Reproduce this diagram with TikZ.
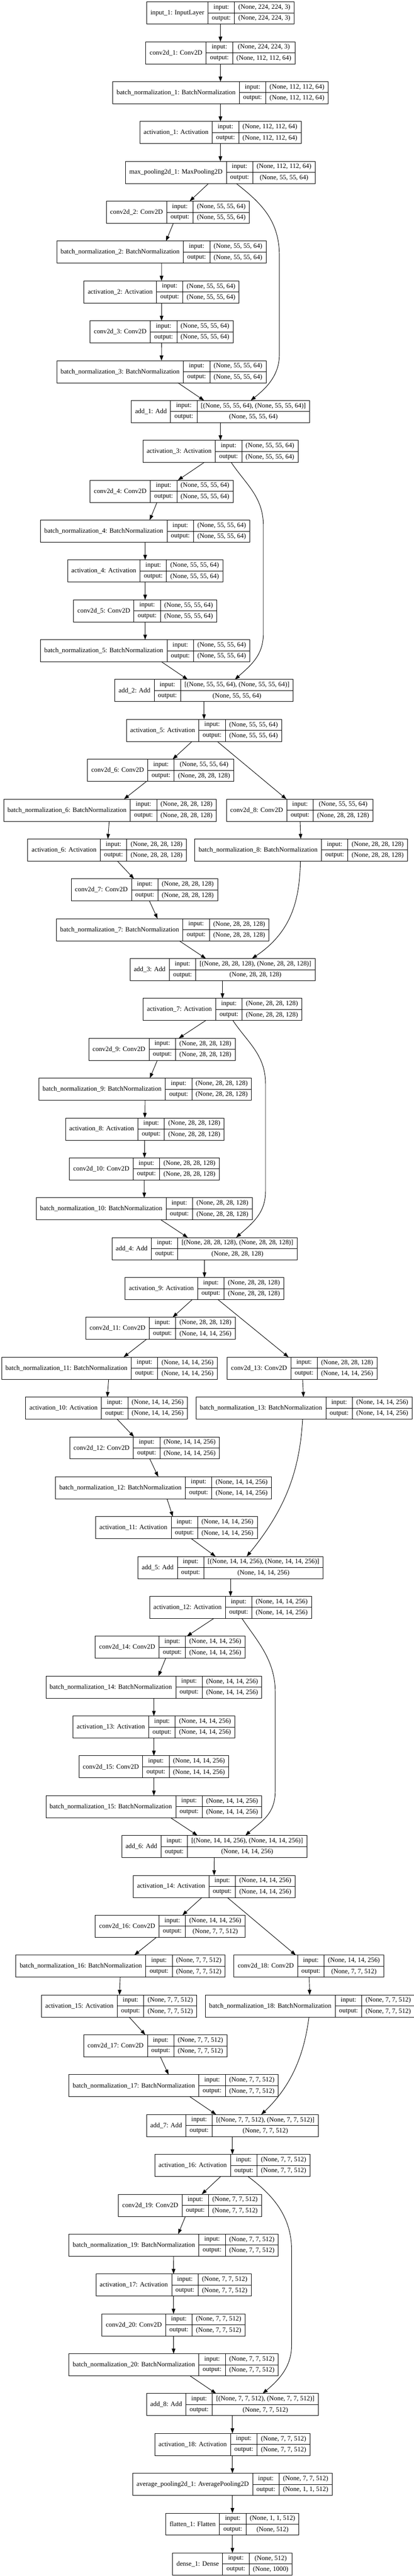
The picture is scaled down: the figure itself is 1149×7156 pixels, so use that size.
\documentclass[tikz,border=0pt]{standalone}
\usepackage{fontspec}
\setmainfont{Liberation Serif}
\usetikzlibrary{arrows.meta}
\usetikzlibrary{calc}

\newcommand\lfont{\fontsize{9.2}{11}\selectfont}
\newlength\lyA
\newlength\lyB
\newlength\lyC
\newlength\lyD
\newlength\lyW
% width of a cell text, measured with the real font
\newcommand\lwidth[2]{\settowidth#1{\pgfinterruptpicture\lfont #2\endpgfinterruptpicture}}

\tikzset{
  cell/.style={draw, line width=0.65pt, inner sep=0pt, outer sep=0pt, font=\lfont, minimum height=15.375pt},
  layer/.style={draw, line width=0.65pt, inner sep=0pt, outer sep=0pt, minimum height=30.75pt},
  edge/.style={-{Triangle[length=7pt,width=5pt]}, line width=0.65pt}
}

% one keras layer: name, x, row, label, input shape, output shape
\newcommand\klayer[6]{%
  \lwidth\lyA{#4}\addtolength\lyA{10.67pt}%
  \lwidth\lyB{output:}\addtolength\lyB{10.67pt}%
  \lwidth\lyC{#5}\lwidth\lyD{#6}%
  \ifdim\lyD>\lyC \setlength\lyC{\lyD}\fi
  \addtolength\lyC{10.67pt}%
  \setlength\lyW{\lyA}\addtolength\lyW{\lyB}\addtolength\lyW{\lyC}%
  \node[layer, minimum width=\lyW] (#1) at (#2,{36+(#3-1)*110.73}) {};
  \node[cell, minimum height=30.75pt, minimum width=\lyA, anchor=west] (#1-n) at (#1.west) {#4};
  \node[cell, minimum width=\lyB, anchor=north west] (#1-i) at (#1-n.north east) {input:};
  \node[cell, minimum width=\lyB, anchor=north west] (#1-o) at (#1-i.south west) {output:};
  \node[cell, minimum width=\lyC, anchor=north west] (#1-si) at (#1-i.north east) {#5};
  \node[cell, minimum width=\lyC, anchor=north west] (#1-so) at (#1-si.south west) {#6};
}

\begin{document}
\begin{tikzpicture}[x=0.5pt, y=-0.5pt]
  \useasboundingbox (0,0) rectangle (1149,7156);

  % stem
  \klayer{in1}{611.7}{1}{input\_1: InputLayer}{(None, 224, 224, 3)}{(None, 224, 224, 3)}
  \klayer{c1}{612}{2}{conv2d\_1: Conv2D}{(None, 224, 224, 3)}{(None, 112, 112, 64)}
  \klayer{bn1}{612}{3}{batch\_normalization\_1: BatchNormalization}{(None, 112, 112, 64)}{(None, 112, 112, 64)}
  \klayer{a1}{612}{4}{activation\_1: Activation}{(None, 112, 112, 64)}{(None, 112, 112, 64)}
  \klayer{mp}{611.7}{5}{max\_pooling2d\_1: MaxPooling2D}{(None, 112, 112, 64)}{(None, 55, 55, 64)}

  % 64 filters
  \klayer{c2}{493.8}{6}{conv2d\_2: Conv2D}{(None, 55, 55, 64)}{(None, 55, 55, 64)}
  \klayer{bn2}{448.2}{7}{batch\_normalization\_2: BatchNormalization}{(None, 55, 55, 64)}{(None, 55, 55, 64)}
  \klayer{a2}{448.5}{8}{activation\_2: Activation}{(None, 55, 55, 64)}{(None, 55, 55, 64)}
  \klayer{c3}{448.5}{9}{conv2d\_3: Conv2D}{(None, 55, 55, 64)}{(None, 55, 55, 64)}
  \klayer{bn3}{448.2}{10}{batch\_normalization\_3: BatchNormalization}{(None, 55, 55, 64)}{(None, 55, 55, 64)}
  \klayer{add1}{612}{11}{add\_1: Add}{[(None, 55, 55, 64), (None, 55, 55, 64)]}{(None, 55, 55, 64)}
  \klayer{a3}{612}{12}{activation\_3: Activation}{(None, 55, 55, 64)}{(None, 55, 55, 64)}
  \klayer{c4}{448.5}{13}{conv2d\_4: Conv2D}{(None, 55, 55, 64)}{(None, 55, 55, 64)}
  \klayer{bn4}{402.9}{14}{batch\_normalization\_4: BatchNormalization}{(None, 55, 55, 64)}{(None, 55, 55, 64)}
  \klayer{a4}{402.9}{15}{activation\_4: Activation}{(None, 55, 55, 64)}{(None, 55, 55, 64)}
  \klayer{c5}{402.9}{16}{conv2d\_5: Conv2D}{(None, 55, 55, 64)}{(None, 55, 55, 64)}
  \klayer{bn5}{402.9}{17}{batch\_normalization\_5: BatchNormalization}{(None, 55, 55, 64)}{(None, 55, 55, 64)}
  \klayer{add2}{566.4}{18}{add\_2: Add}{[(None, 55, 55, 64), (None, 55, 55, 64)]}{(None, 55, 55, 64)}
  \klayer{a5}{566.4}{19}{activation\_5: Activation}{(None, 55, 55, 64)}{(None, 55, 55, 64)}

  % 128 filters
  \klayer{c6}{445.9}{20}{conv2d\_6: Conv2D}{(None, 55, 55, 64)}{(None, 28, 28, 128)}
  \klayer{bn6}{305.3}{21}{batch\_normalization\_6: BatchNormalization}{(None, 28, 28, 128)}{(None, 28, 28, 128)}
  \klayer{c8}{831.9}{21}{conv2d\_8: Conv2D}{(None, 55, 55, 64)}{(None, 28, 28, 128)}
  \klayer{a6}{297.2}{22}{activation\_6: Activation}{(None, 28, 28, 128)}{(None, 28, 28, 128)}
  \klayer{bn8}{835.9}{22}{batch\_normalization\_8: BatchNormalization}{(None, 28, 28, 128)}{(None, 28, 28, 128)}
  \klayer{c7}{400.7}{23}{conv2d\_7: Conv2D}{(None, 28, 28, 128)}{(None, 28, 28, 128)}
  \klayer{bn7}{451.5}{24}{batch\_normalization\_7: BatchNormalization}{(None, 28, 28, 128)}{(None, 28, 28, 128)}
  \klayer{add3}{617.6}{25}{add\_3: Add}{[(None, 28, 28, 128), (None, 28, 28, 128)]}{(None, 28, 28, 128)}
  \klayer{a7}{617.6}{26}{activation\_7: Activation}{(None, 28, 28, 128)}{(None, 28, 28, 128)}
  \klayer{c9}{449.6}{27}{conv2d\_9: Conv2D}{(None, 28, 28, 128)}{(None, 28, 28, 128)}
  \klayer{bn9}{402.9}{28}{batch\_normalization\_9: BatchNormalization}{(None, 28, 28, 128)}{(None, 28, 28, 128)}
  \klayer{a8}{401.8}{29}{activation\_8: Activation}{(None, 28, 28, 128)}{(None, 28, 28, 128)}
  \klayer{c10}{400.7}{30}{conv2d\_10: Conv2D}{(None, 28, 28, 128)}{(None, 28, 28, 128)}
  \klayer{bn10}{400.3}{31}{batch\_normalization\_10: BatchNormalization}{(None, 28, 28, 128)}{(None, 28, 28, 128)}
  \klayer{add4}{567.8}{32}{add\_4: Add}{[(None, 28, 28, 128), (None, 28, 28, 128)]}{(None, 28, 28, 128)}
  \klayer{a9}{567.5}{33}{activation\_9: Activation}{(None, 28, 28, 128)}{(None, 28, 28, 128)}

  % 256 filters
  \klayer{c11}{445.6}{34}{conv2d\_11: Conv2D}{(None, 28, 28, 128)}{(None, 14, 14, 256)}
  \klayer{bn11}{303.8}{35}{batch\_normalization\_11: BatchNormalization}{(None, 14, 14, 256)}{(None, 14, 14, 256)}
  \klayer{c13}{838.5}{35}{conv2d\_13: Conv2D}{(None, 28, 28, 128)}{(None, 14, 14, 256)}
  \klayer{a10}{295.7}{36}{activation\_10: Activation}{(None, 14, 14, 256)}{(None, 14, 14, 256)}
  \klayer{bn13}{844}{36}{batch\_normalization\_13: BatchNormalization}{(None, 14, 14, 256)}{(None, 14, 14, 256)}
  \klayer{c12}{401.4}{37}{conv2d\_12: Conv2D}{(None, 14, 14, 256)}{(None, 14, 14, 256)}
  \klayer{bn12}{453.7}{38}{batch\_normalization\_12: BatchNormalization}{(None, 14, 14, 256)}{(None, 14, 14, 256)}
  \klayer{a11}{489.8}{39}{activation\_11: Activation}{(None, 14, 14, 256)}{(None, 14, 14, 256)}
  \klayer{add5}{640}{40}{add\_5: Add}{[(None, 14, 14, 256), (None, 14, 14, 256)]}{(None, 14, 14, 256)}
  \klayer{a12}{640}{41}{activation\_12: Activation}{(None, 14, 14, 256)}{(None, 14, 14, 256)}
  \klayer{c14}{472.5}{42}{conv2d\_14: Conv2D}{(None, 14, 14, 256)}{(None, 14, 14, 256)}
  \klayer{bn14}{427.2}{43}{batch\_normalization\_14: BatchNormalization}{(None, 14, 14, 256)}{(None, 14, 14, 256)}
  \klayer{a13}{427.2}{44}{activation\_13: Activation}{(None, 14, 14, 256)}{(None, 14, 14, 256)}
  \klayer{c15}{427.2}{45}{conv2d\_15: Conv2D}{(None, 14, 14, 256)}{(None, 14, 14, 256)}
  \klayer{bn15}{427.2}{46}{batch\_normalization\_15: BatchNormalization}{(None, 14, 14, 256)}{(None, 14, 14, 256)}
  \klayer{add6}{594.7}{47}{add\_6: Add}{[(None, 14, 14, 256), (None, 14, 14, 256)]}{(None, 14, 14, 256)}
  \klayer{a14}{594.4}{48}{activation\_14: Activation}{(None, 14, 14, 256)}{(None, 14, 14, 256)}

  % 512 filters
  \klayer{c16}{472.5}{49}{conv2d\_16: Conv2D}{(None, 14, 14, 256)}{(None, 7, 7, 512)}
  \klayer{bn16}{334.7}{50}{batch\_normalization\_16: BatchNormalization}{(None, 7, 7, 512)}{(None, 7, 7, 512)}
  \klayer{c18}{857.3}{50}{conv2d\_18: Conv2D}{(None, 14, 14, 256)}{(None, 7, 7, 512)}
  \klayer{a15}{330.7}{51}{activation\_15: Activation}{(None, 7, 7, 512)}{(None, 7, 7, 512)}
  \klayer{bn18}{860.6}{51}{batch\_normalization\_18: BatchNormalization}{(None, 7, 7, 512)}{(None, 7, 7, 512)}
  \klayer{c17}{431.2}{52}{conv2d\_17: Conv2D}{(None, 7, 7, 512)}{(None, 7, 7, 512)}
  \klayer{bn17}{482}{53}{batch\_normalization\_17: BatchNormalization}{(None, 7, 7, 512)}{(None, 7, 7, 512)}
  \klayer{add7}{645.2}{54}{add\_7: Add}{[(None, 7, 7, 512), (None, 7, 7, 512)]}{(None, 7, 7, 512)}
  \klayer{a16}{645.2}{55}{activation\_16: Activation}{(None, 7, 7, 512)}{(None, 7, 7, 512)}
  \klayer{c19}{527.3}{56}{conv2d\_19: Conv2D}{(None, 7, 7, 512)}{(None, 7, 7, 512)}
  \klayer{bn19}{482}{57}{batch\_normalization\_19: BatchNormalization}{(None, 7, 7, 512)}{(None, 7, 7, 512)}
  \klayer{a17}{481.7}{58}{activation\_17: Activation}{(None, 7, 7, 512)}{(None, 7, 7, 512)}
  \klayer{c20}{481.7}{59}{conv2d\_20: Conv2D}{(None, 7, 7, 512)}{(None, 7, 7, 512)}
  \klayer{bn20}{482}{60}{batch\_normalization\_20: BatchNormalization}{(None, 7, 7, 512)}{(None, 7, 7, 512)}
  \klayer{add8}{645.2}{61}{add\_8: Add}{[(None, 7, 7, 512), (None, 7, 7, 512)]}{(None, 7, 7, 512)}
  \klayer{a18}{645.2}{62}{activation\_18: Activation}{(None, 7, 7, 512)}{(None, 7, 7, 512)}

  % head
  \klayer{ap}{645.2}{63}{average\_pooling2d\_1: AveragePooling2D}{(None, 7, 7, 512)}{(None, 1, 1, 512)}
  \klayer{fl}{645.2}{64}{flatten\_1: Flatten}{(None, 1, 1, 512)}{(None, 512)}
  \klayer{d1}{645.2}{65}{dense\_1: Dense}{(None, 512)}{(None, 1000)}

  % straight edges
  \foreach \a/\b in {in1/c1, c1/bn1, bn1/a1, a1/mp, mp/c2, c2/bn2, bn2/a2, a2/c3, c3/bn3, bn3/add1,
      add1/a3, a3/c4, c4/bn4, bn4/a4, a4/c5, c5/bn5, bn5/add2, add2/a5,
      a5/c6, a5/c8, c6/bn6, c8/bn8, bn6/a6, a6/c7, c7/bn7, bn7/add3, add3/a7,
      a7/c9, c9/bn9, bn9/a8, a8/c10, c10/bn10, bn10/add4, add4/a9,
      a9/c11, a9/c13, c11/bn11, c13/bn13, bn11/a10, a10/c12, c12/bn12, bn12/a11, a11/add5, add5/a12,
      a12/c14, c14/bn14, bn14/a13, a13/c15, c15/bn15, bn15/add6, add6/a14,
      a14/c16, a14/c18, c16/bn16, c18/bn18, bn16/a15, a15/c17, c17/bn17, bn17/add7, add7/a16,
      a16/c19, c19/bn19, bn19/a17, a17/c20, c20/bn20, bn20/add8, add8/a18,
      a18/ap, ap/fl, fl/d1}
    \draw[edge] (\a) -- (\b);

  % shortcut edges
  \draw[edge] ($(mp.south)+(44,0)$) .. controls +(66,52) and +(0,-100) .. (775.5,710) -- (775.5,985)
    .. controls +(0,60) and +(40,-32) .. ($(add1.north)+(84,0)$);
  \draw[edge] ($(a3.south)+(30,0)$) .. controls +(40,60) and +(0,-80) .. (731,1460) -- (731,1760)
    .. controls +(0,60) and +(45,-40) .. ($(add2.north)+(85.6,0)$);
  \draw[edge] ($(bn8.south)+(-2,0)$) .. controls +(-2,108) and +(110,-74) .. ($(add3.north)+(82,0)$);
  \draw[edge] ($(a7.south)+(29,0)$) .. controls +(40,60) and +(0,-80) .. (737,3010) -- (737,3310)
    .. controls +(0,60) and +(45,-40) .. ($(add4.north)+(87.7,0)$);
  \draw[edge] ($(bn13.south)+(-4,0)$) .. controls +(-8,150) and +(103,-126) .. ($(add5.north)+(45,0)$);
  \draw[edge] ($(a12.south)+(31.7,0)$) .. controls +(40,60) and +(0,-90) .. (764,4700) -- (764,4975)
    .. controls +(0,65) and +(45,-40) .. ($(add6.north)+(86.6,0)$);
  \draw[edge] ($(bn18.south)+(-3,0)$) .. controls +(-12,95) and +(89,-84) .. ($(add7.north)+(80,0)$);
  \draw[edge] ($(a16.south)+(43.4,0)$) .. controls +(60,45) and +(0,-100) .. (809.4,6250) -- (809.4,6515)
    .. controls +(0,60) and +(45,-38) .. ($(add8.north)+(84,0)$);
\end{tikzpicture}
\end{document}
